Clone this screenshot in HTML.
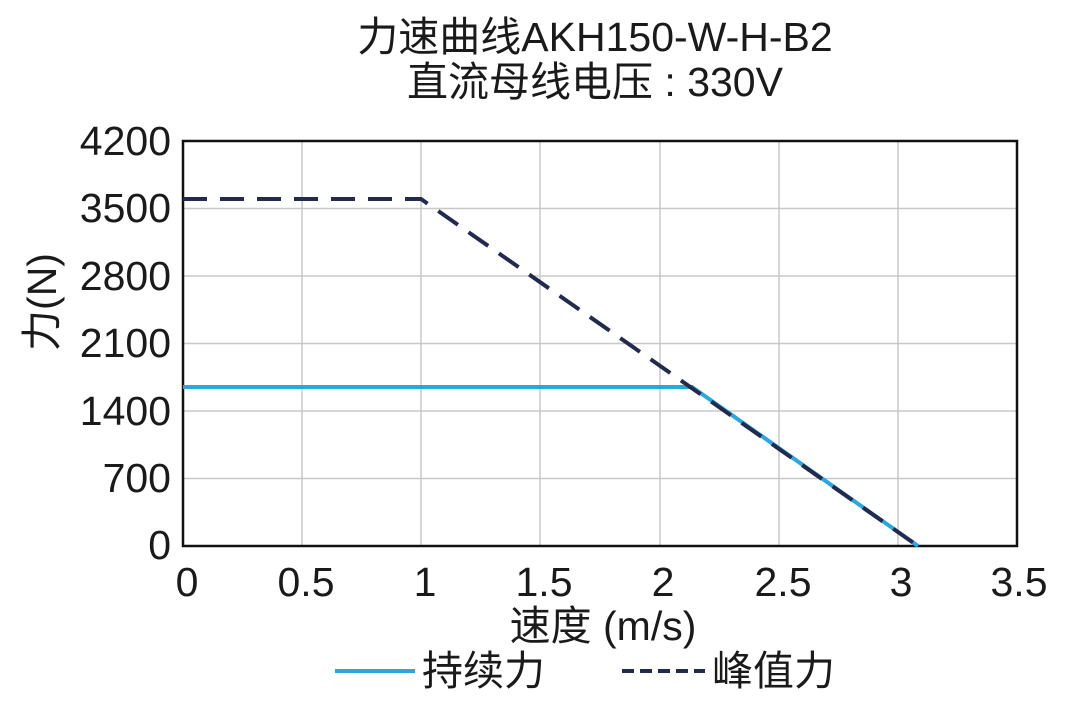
<!DOCTYPE html>
<html><head><meta charset="utf-8"><style>
html,body{margin:0;padding:0;background:#fff;}
svg text{font-family:"Liberation Sans","Noto Sans CJK SC",sans-serif;fill:#1a1a1a;}
</style></head><body>
<svg width="1082" height="708" viewBox="0 0 1082 708" xmlns="http://www.w3.org/2000/svg">
<text x="595" y="51" font-size="41" text-anchor="middle">力速曲线AKH150-W-H-B2</text>
<text x="595" y="96" font-size="41" text-anchor="middle">直流母线电压 : 330V</text>
<g stroke="#c8c8c8" stroke-width="1.5">
<line x1="302" y1="141" x2="302" y2="546"/><line x1="421" y1="141" x2="421" y2="546"/>
<line x1="540" y1="141" x2="540" y2="546"/><line x1="660" y1="141" x2="660" y2="546"/>
<line x1="779" y1="141" x2="779" y2="546"/><line x1="898" y1="141" x2="898" y2="546"/>
<line x1="183" y1="208.5" x2="1017" y2="208.5"/><line x1="183" y1="276" x2="1017" y2="276"/>
<line x1="183" y1="343.5" x2="1017" y2="343.5"/><line x1="183" y1="411" x2="1017" y2="411"/>
<line x1="183" y1="478.5" x2="1017" y2="478.5"/>
</g>
<rect x="183" y="141" width="834" height="405" fill="none" stroke="#111" stroke-width="2.5"/>
<polyline points="183,387 692,387 918,546" fill="none" stroke="#29a8df" stroke-width="4"/>
<polyline points="183,199 421,199 918,546" fill="none" stroke="#222a4e" stroke-width="4" stroke-dasharray="24,13"/>
<g font-size="41" text-anchor="end">
<text x="171" y="155">4200</text><text x="171" y="222">3500</text><text x="171" y="290">2800</text>
<text x="171" y="357">2100</text><text x="171" y="425">1400</text><text x="171" y="492">700</text>
<text x="171" y="559">0</text>
</g>
<g font-size="41" text-anchor="middle">
<text x="187" y="596">0</text><text x="306" y="596">0.5</text><text x="425" y="596">1</text>
<text x="544" y="596">1.5</text><text x="663" y="596">2</text><text x="783" y="596">2.5</text>
<text x="901" y="596">3</text><text x="1019" y="596">3.5</text>
</g>
<text x="603" y="640" font-size="41" text-anchor="middle">速度 (m/s)</text>
<text transform="translate(56,302) rotate(-90)" font-size="41" text-anchor="middle">力(N)</text>
<line x1="335" y1="671" x2="415" y2="671" stroke="#29a8df" stroke-width="4"/>
<text x="422" y="685" font-size="41">持续力</text>
<line x1="622" y1="671" x2="705" y2="671" stroke="#222a4e" stroke-width="4" stroke-dasharray="12,6"/>
<text x="712" y="685" font-size="41">峰值力</text>
</svg>
</body></html>
